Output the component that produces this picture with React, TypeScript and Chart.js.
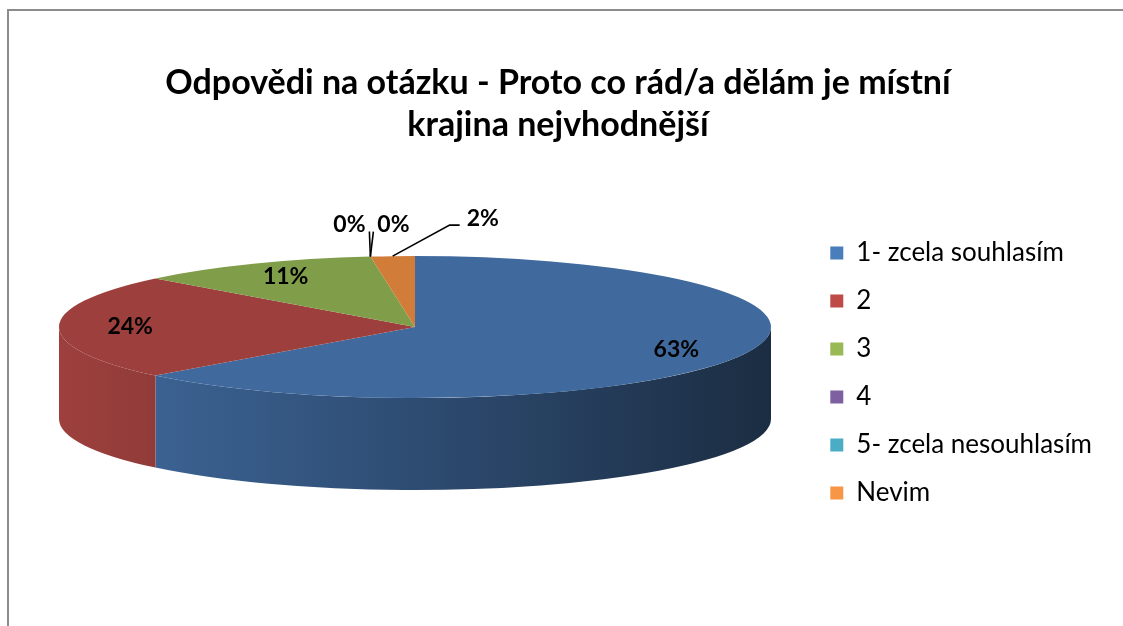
import React, { useEffect, useRef } from "react";
import { Chart, registerables } from "chart.js";

Chart.register(...registerables);

const TITLE_LINES = [
  "Odpovědi na otázku - Proto co rád/a dělám je místní",
  "krajina nejvhodnější",
];
const CATEGORIES = ["1- zcela souhlasím", "2", "3", "4", "5- zcela nesouhlasím", "Nevim"];
const VALUES = [63, 24, 11, 0, 0, 2];
const TOP_RGB = [
  [64, 106, 158],
  [157, 64, 61],
  [128, 157, 74],
  [111, 86, 143],
  [63, 147, 169],
  [209, 124, 57],
];
const LEGEND_COLORS = ["#4a7ebb", "#be4b48", "#98b954", "#7d60a0", "#4bacc6", "#f79646"];

// layout of the tilted pie (ellipse centre, radii, wall depth)
const CX = 415;
const CY = 327;
const RX = 356;
const RY = 71;
const DEPTH = 92;
const FONT = "Lato, 'Open Sans', sans-serif";

const rgb = (c: number[], m = 1) =>
  `rgb(${c.map((v) => Math.max(0, Math.min(255, Math.round(v * m)))).join(",")})`;

// call-outs for the small slices, relative to the slice rim anchor
const CALLOUTS = [
  { line: [[0, 0], [-1, -25]], text: [-21, -32], align: "center" },
  { line: [[0, 0], [3, -25]], text: [23, -32], align: "center" },
  { line: [[0, 0], [57, -31], [67, -31]], text: [74, -38], align: "left" },
];

const pie3d = {
  id: "pie3d",
  beforeDatasetsDraw(chart: any) {
    const meta = chart.getDatasetMeta(0);
    const arcs = meta.data as any[];
    if (!arcs.length) return;
    const ctx: CanvasRenderingContext2D = chart.ctx;
    const r = arcs[0].outerRadius;
    const ox = arcs[0].x;
    const oy = arcs[0].y;
    ctx.save();
    arcs.forEach((arc: any, i: number) => {
      const s = arc.startAngle;
      const e = arc.endAngle;
      if (e - s <= 1e-6) return;
      for (let k = -1; k <= 1; k++) {
        const lo = Math.max(s, 2 * Math.PI * k);
        const hi = Math.min(e, 2 * Math.PI * k + Math.PI);
        if (hi <= lo) continue;
        const g = ctx.createLinearGradient(CX - RX, 0, CX + RX, 0);
        g.addColorStop(0, rgb(TOP_RGB[i], 1));
        g.addColorStop(0.5, rgb(TOP_RGB[i], 0.72));
        g.addColorStop(1, rgb(TOP_RGB[i], 0.42));
        ctx.beginPath();
        ctx.ellipse(CX, CY, RX, RY, 0, lo, hi, false);
        ctx.ellipse(CX, CY + DEPTH, RX, RY, 0, hi, lo, true);
        ctx.closePath();
        ctx.fillStyle = g;
        ctx.fill();
      }
    });
    ctx.restore();
    ctx.save();
    ctx.translate(CX, CY);
    ctx.scale(RX / r, RY / r);
    ctx.translate(-ox, -oy);
  },
  afterDatasetsDraw(chart: any) {
    const ctx: CanvasRenderingContext2D = chart.ctx;
    ctx.restore();
    const meta = chart.getDatasetMeta(0);
    const arcs = meta.data as any[];
    const total = VALUES.reduce((a, b) => a + b, 0);
    let small = 0;
    ctx.save();
    ctx.fillStyle = "#000";
    ctx.strokeStyle = "#000";
    ctx.lineWidth = 1.6;
    ctx.textBaseline = "middle";
    arcs.forEach((arc: any, i: number) => {
      const pct = Math.round((VALUES[i] / total) * 100);
      const text = pct + "%";
      const mid = (arc.startAngle + arc.endAngle) / 2;
      ctx.font = `bold 23px ${FONT}`;
      if (pct >= 5) {
        ctx.textAlign = "center";
        ctx.fillText(text, CX + 0.8 * RX * Math.cos(mid), CY + 0.8 * RY * Math.sin(mid));
      } else {
        const ax = CX + RX * Math.cos(mid);
        const ay = CY + RY * Math.sin(mid);
        const co = CALLOUTS[Math.min(small, CALLOUTS.length - 1)];
        small++;
        ctx.beginPath();
        co.line.forEach((p, j) => {
          if (j === 0) ctx.moveTo(ax + p[0], ay + p[1]);
          else ctx.lineTo(ax + p[0], ay + p[1]);
        });
        ctx.stroke();
        ctx.textAlign = co.align as CanvasTextAlign;
        ctx.fillText(text, ax + co.text[0], ay + co.text[1]);
      }
    });
    ctx.restore();
  },
};

export default function App() {
  const ref = useRef<HTMLCanvasElement>(null);
  useEffect(() => {
    if (!ref.current) return;
    const chart = new Chart(ref.current, {
      type: "pie",
      data: {
        labels: CATEGORIES,
        datasets: [
          {
            data: VALUES,
            backgroundColor: TOP_RGB.map((c) => rgb(c)),
            borderWidth: 0,
            clip: false,
          } as any,
        ],
      },
      options: {
        responsive: false,
        animation: false,
        events: [],
        layout: { padding: { left: 14, right: 21, top: 0, bottom: 36 } },
        plugins: {
          title: {
            display: true,
            text: TITLE_LINES,
            color: "#000",
            font: { family: FONT, size: 34, weight: "bold", lineHeight: 1.235 },
            padding: { top: 62, bottom: 10 },
          },
          legend: {
            position: "right",
            align: "center",
            fullSize: false,
            labels: {
              boxWidth: 13,
              boxHeight: 13,
              padding: 22,
              color: "#000",
              font: { family: FONT, size: 26 },
              generateLabels: () =>
                CATEGORIES.map((t, i) => ({
                  text: t,
                  fillStyle: LEGEND_COLORS[i],
                  strokeStyle: LEGEND_COLORS[i],
                  lineWidth: 0,
                  hidden: false,
                  index: i,
                  fontColor: "#000",
                })),
            },
          },
          tooltip: { enabled: false },
        },
      } as any,
      plugins: [pie3d],
    });
    return () => chart.destroy();
  }, []);
  return (
    <div
      style={{
        position: "fixed",
        left: 0,
        top: 0,
        width: 1123,
        height: 626,
        background: "#fff",
        overflow: "hidden",
      }}
    >
      <div
        style={{
          position: "absolute",
          left: 7,
          top: 9,
          width: 1116,
          height: 2,
          background: "#8c8c8c",
        }}
      />
      <div
        style={{
          position: "absolute",
          left: 7,
          top: 9,
          width: 2,
          height: 617,
          background: "#8c8c8c",
        }}
      />
      <canvas
        ref={ref}
        width={1123}
        height={626}
        style={{ position: "absolute", left: 0, top: 0, display: "block" }}
      />
    </div>
  );
}
